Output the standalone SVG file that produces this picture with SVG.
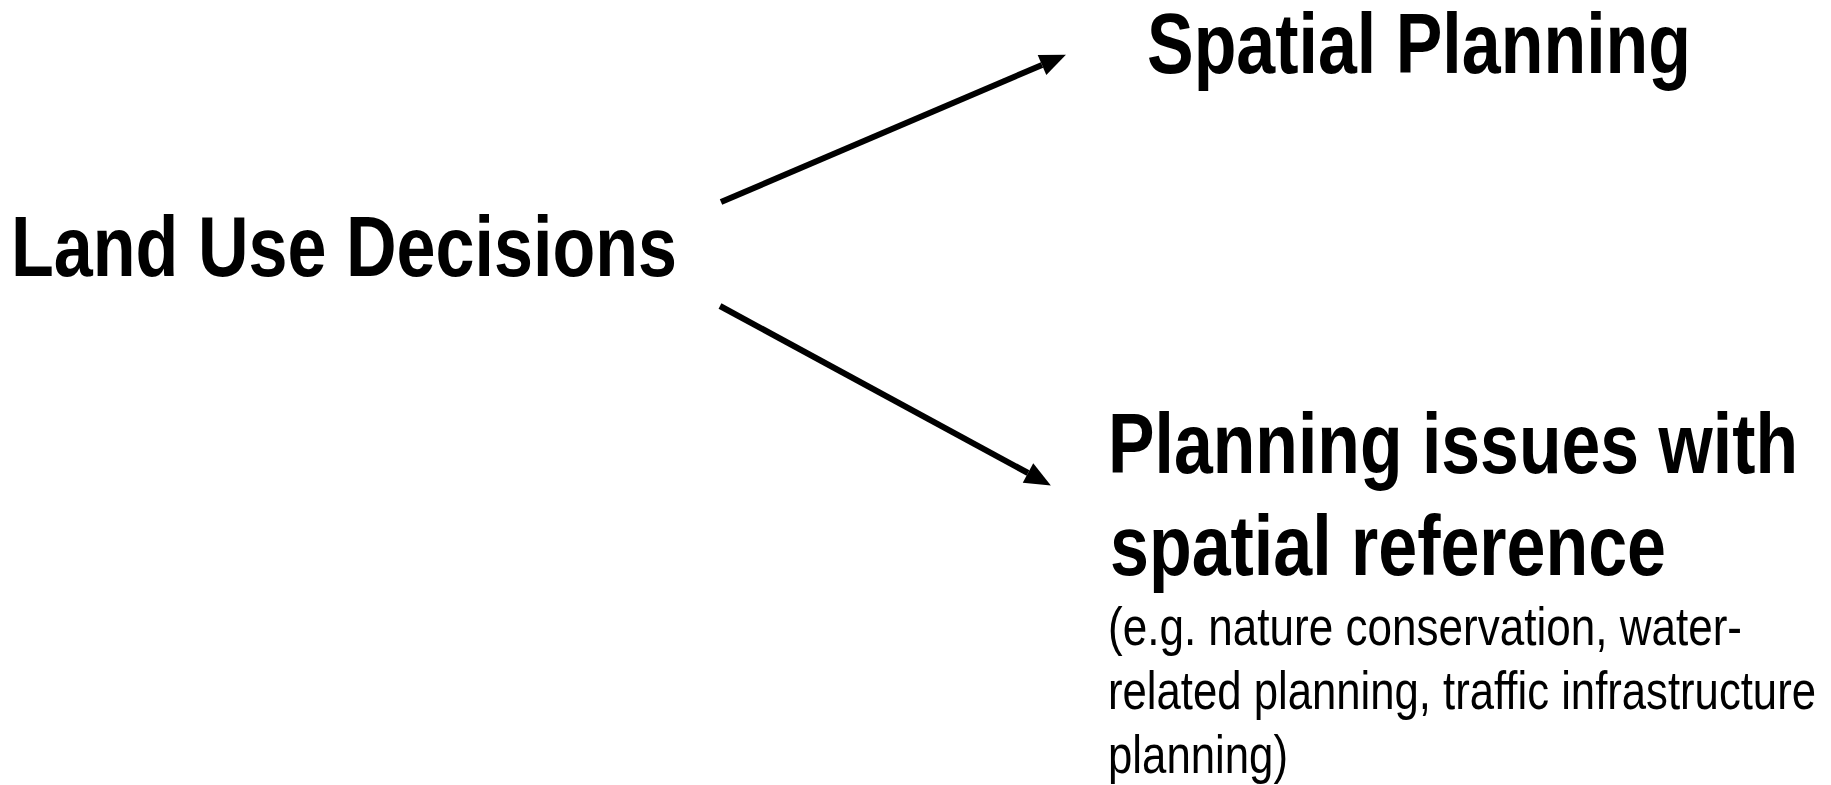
<svg xmlns="http://www.w3.org/2000/svg" width="1831" height="785" viewBox="0 0 1831 785">
  <style>
    .big { font-family: "Liberation Sans Narrow", "Liberation Sans", Arial, sans-serif; font-weight: bold; font-size: 85px; fill: #000; }
    .small { font-family: "Liberation Sans Narrow", "Liberation Sans", Arial, sans-serif; font-size: 53.5px; fill: #000; }
    .conn { stroke: #000; stroke-width: 6; fill: none; marker-end: url(#arrow); }
  </style>
  <defs>
    <marker id="arrow" markerUnits="userSpaceOnUse" markerWidth="26" markerHeight="22" refX="0" refY="11" orient="auto" overflow="visible">
      <path d="M0,0 L26,11 L0,22 z" fill="#000"/>
    </marker>
  </defs>
  <rect width="1831" height="785" fill="#fff"/>
  <g id="connectors">
    <line class="conn" x1="721" y1="202" x2="1042" y2="65"/>
    <line class="conn" x1="720" y1="306" x2="1028" y2="473"/>
  </g>
  <g id="node-land-use">
    <text class="big" x="11" y="276" textLength="666" lengthAdjust="spacingAndGlyphs">Land Use Decisions</text>
  </g>
  <g id="node-spatial-planning">
    <text class="big" x="1147" y="73" textLength="544" lengthAdjust="spacingAndGlyphs">Spatial Planning</text>
  </g>
  <g id="node-planning-issues">
    <text class="big" x="1108" y="473" textLength="690" lengthAdjust="spacingAndGlyphs">Planning issues with</text>
    <text class="big" x="1110" y="575" textLength="556" lengthAdjust="spacingAndGlyphs">spatial reference</text>
    <text class="small" x="1108" y="645" textLength="634" lengthAdjust="spacingAndGlyphs">(e.g. nature conservation, water-</text>
    <text class="small" x="1108" y="709" textLength="708" lengthAdjust="spacingAndGlyphs">related planning, traffic infrastructure</text>
    <text class="small" x="1108" y="773" textLength="180" lengthAdjust="spacingAndGlyphs">planning)</text>
  </g>
</svg>
